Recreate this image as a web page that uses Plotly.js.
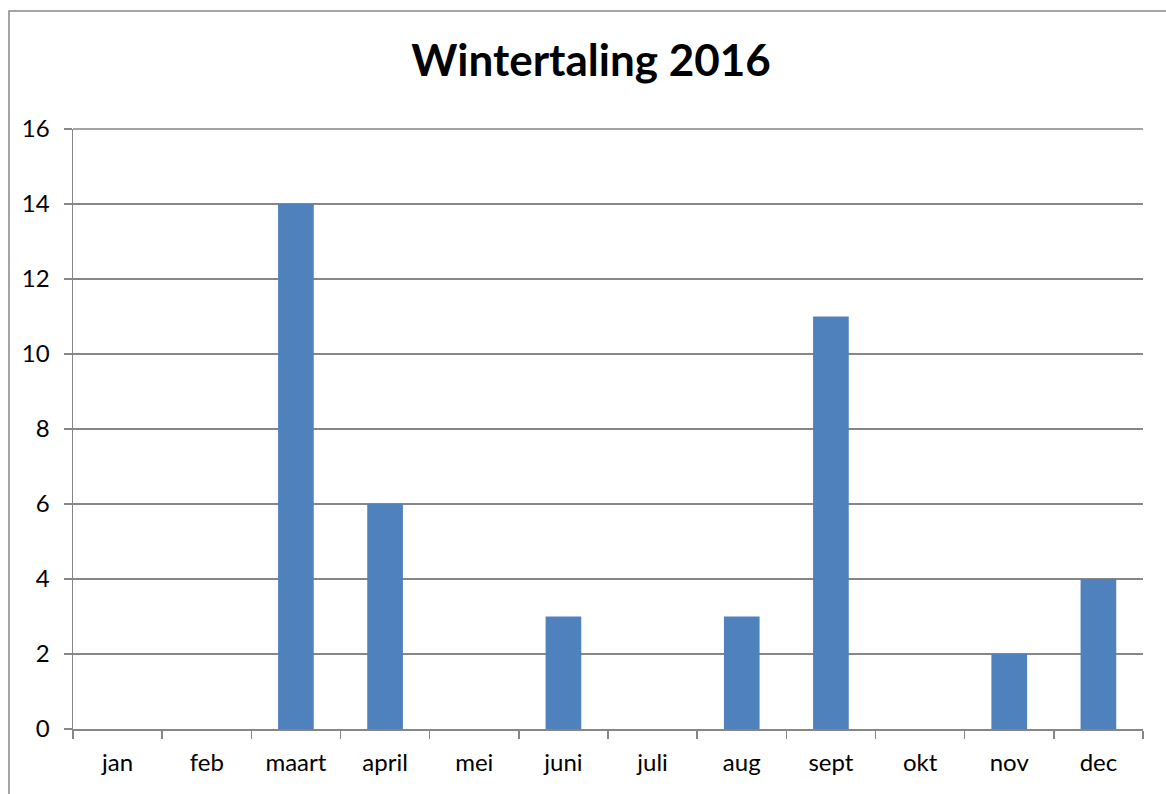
<!DOCTYPE html>
<html><head><meta charset="utf-8">
<script src="https://cdn.plot.ly/plotly-3.0.1.min.js"></script>
<style>html,body{margin:0;padding:0;background:#fff}#c{width:1166px;height:794px}</style>
</head><body><div id="c"></div>
<script>
const months = ["jan","feb","maart","april","mei","juni","juli","aug","sept","okt","nov","dec"];
const counts = [0,0,14,6,0,3,0,3,11,0,2,4];
const yTicks = [0,2,4,6,8,10,12,14,16];
const yMax = 16;
const chartTitle = "Wintertaling 2016";

const L=73, R=23, T=129, B=65, W=1166, H=794;
const pw=W-L-R, ph=H-T-B;
const px=x=>(x-L)/pw, py=y=>(H-B-y)/ph;

Plotly.newPlot('c',[{
  type:'bar', x:months, y:counts,
  marker:{color:'#4F81BD', line:{width:0}},
  hoverinfo:'skip'
}],{
  width:W, height:H,
  margin:{l:L,r:R,t:T,b:B,pad:0},
  paper_bgcolor:'#fff', plot_bgcolor:'#fff',
  bargap:0.6,
  font:{family:'Lato, "Open Sans", sans-serif', color:'#000', size:24},
  title:{text:'<b>'+chartTitle+'</b>', x:px(591), xref:'paper', xanchor:'center', y:1-61/H, yanchor:'middle',
    font:{size:44, family:'Lato, "Open Sans", sans-serif', color:'#000'}},
  xaxis:{type:'category', tickson:'boundaries', ticks:'outside', ticklen:8, tickwidth:1.5, tickcolor:'#868686',
    showgrid:false, showline:true, linecolor:'#868686', linewidth:1.5, zeroline:false,
    tickfont:{size:24}, ticklabelstandoff:12, fixedrange:true},
  yaxis:{range:[0,yMax], tickvals:yTicks, ticks:'outside', ticklen:8, tickwidth:1.5, tickcolor:'#868686',
    showgrid:true, gridcolor:'#868686', gridwidth:1.5, showline:true, linecolor:'#868686', linewidth:1.5,
    zeroline:false, tickfont:{size:24}, ticklabelstandoff:9, fixedrange:true},
  shapes:[
    {type:'rect', xref:'paper', yref:'paper', x0:px(9), x1:px(1180), y0:py(808), y1:py(11),
      line:{color:'#868686', width:1.5}, fillcolor:'rgba(0,0,0,0)', layer:'below'},
    {type:'line', xref:'paper', yref:'paper', x0:0, x1:1, y0:1, y1:1,
      line:{color:'#868686', width:1.5}, layer:'below'}
  ],
  showlegend:false
},{staticPlot:true});
</script></body></html>
